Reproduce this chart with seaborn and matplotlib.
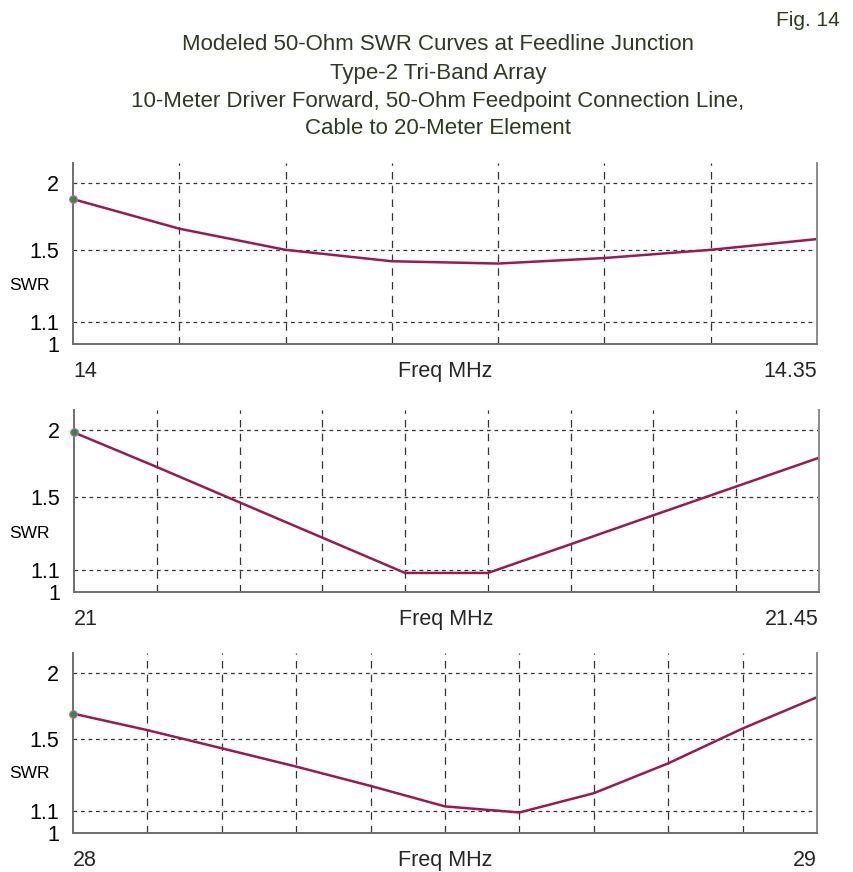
import matplotlib
matplotlib.use("Agg")
import matplotlib.pyplot as plt
import seaborn as sns
import pandas as pd
import numpy as np

# ---- data ----
freq_20m = [14.00, 14.05, 14.10, 14.15, 14.20, 14.25, 14.30, 14.35]
swr_20m = [1.866, 1.643, 1.50, 1.428, 1.414, 1.448, 1.50, 1.571]

freq_15m = [21.00, 21.05, 21.10, 21.15, 21.20, 21.25, 21.30, 21.35, 21.40, 21.45]
swr_15m = [1.98, 1.708, 1.468, 1.262, 1.085, 1.085, 1.227, 1.389, 1.571, 1.777]

freq_10m = [28.0, 28.1, 28.2, 28.3, 28.4, 28.5, 28.6, 28.7, 28.8, 28.9, 29.0]
swr_10m = [1.677, 1.561, 1.443, 1.333, 1.226, 1.122, 1.093, 1.188, 1.352, 1.572, 1.80]

grid_steps = [0.05, 0.05, 0.1]
x_left_labels = ["14", "21", "28"]
x_right_labels = ["14.35", "21.45", "29"]
y_ticks = [1.0, 1.1, 1.5, 2.0]
y_tick_labels = ["1", "1.1", "1.5", "2"]

title_lines = [
    "Modeled 50-Ohm SWR Curves at Feedline Junction",
    "Type-2 Tri-Band Array",
    "10-Meter Driver Forward, 50-Ohm Feedpoint Connection Line,",
    "Cable to 20-Meter Element",
]

sns.set_style("white")
plt.rcParams['font.family'] = ['Liberation Sans', 'DejaVu Sans']

W, H = 854, 872
fig = plt.figure(figsize=(W / 100, H / 100), dpi=100)

line_color = "#9A1A52"
title_color = "#2F3A24"
fs = 15.5
fs_title = 16

# panel rectangles in pixels: left, top, right, bottom
rects = [(73, 163, 817, 344), (74, 410, 819, 592), (73, 653, 817, 833)]
datasets = [(freq_20m, swr_20m), (freq_15m, swr_15m), (freq_10m, swr_10m)]

for i, ((l, t, r, b), (fx, fy)) in enumerate(zip(rects, datasets)):
    ax = fig.add_axes([l / W, 1 - b / H, (r - l) / W, (b - t) / H])
    df = pd.DataFrame({"Freq": fx, "SWR": fy})
    sns.lineplot(data=df, x="Freq", y="SWR", ax=ax, color=line_color, lw=1.8)
    ax.plot(fx[0], fy[0], marker="o", ms=5.5, color="#1E9A22",
            mec="#E050E0", mew=0.8, clip_on=False, zorder=5)
    ax.set_yscale("log")
    ax.set_ylim(1.0, 2.18)
    ax.set_xlim(fx[0], fx[-1])
    ax.set_yticks(y_ticks)
    ax.set_yticklabels(y_tick_labels)
    ax.yaxis.set_minor_locator(matplotlib.ticker.NullLocator())
    ax.tick_params(axis="y", length=0, pad=10, labelsize=fs, colors="black")
    step = grid_steps[i]
    n = int(round((fx[-1] - fx[0]) / step))
    xt = [fx[0] + k * step for k in range(1, n)]
    ax.set_xticks(xt)
    ax.set_xticklabels([])
    ax.tick_params(axis="x", length=4, direction="out", color="#555555", width=0.8)
    for yv in [1.1, 1.5, 2.0]:
        ax.axhline(yv, color="#333333", lw=0.9, ls=(0, (3, 3)), zorder=0.5)
    for xv in xt:
        ax.axvline(xv, color="#333333", lw=0.9, ls=(0, (6, 5)), zorder=0.5)
    ax.grid(False)
    ax.spines["top"].set_visible(False)
    for s in ["left", "bottom"]:
        ax.spines[s].set_color("#6E6E6E")
        ax.spines[s].set_linewidth(1.4)
    ax.spines["right"].set_color("#8A8A8A")
    ax.spines["right"].set_linewidth(1.4)
    ax.set_xlabel("")
    ax.set_ylabel("")
    # x labels
    ax.annotate(x_left_labels[i], xy=(0, 0), xycoords="axes fraction",
                xytext=(0, -19.5), textcoords="offset points",
                ha="left", va="center", fontsize=fs)
    ax.annotate("Freq MHz", xy=(0.5, 0), xycoords="axes fraction",
                xytext=(0, -19.5), textcoords="offset points",
                ha="center", va="center", fontsize=fs)
    ax.annotate(x_right_labels[i], xy=(1, 0), xycoords="axes fraction",
                xytext=(0, -19.5), textcoords="offset points",
                ha="right", va="center", fontsize=fs)
    # SWR label
    fig.text(9 / W, 1 - (b - 59) / H, "SWR", ha="left", va="center",
             fontsize=12.5, color="black")

# title
ys = [45, 73, 101, 128]
for txt, yy in zip(title_lines, ys):
    fig.text(438 / W, 1 - yy / H, txt, ha="center", va="center",
             fontsize=fs_title, color=title_color)
fig.text(808 / W, 1 - 20 / H, "Fig. 14", ha="center", va="center",
         fontsize=fs_title - 1, color=title_color)

fig.savefig("out.png", dpi=100)
